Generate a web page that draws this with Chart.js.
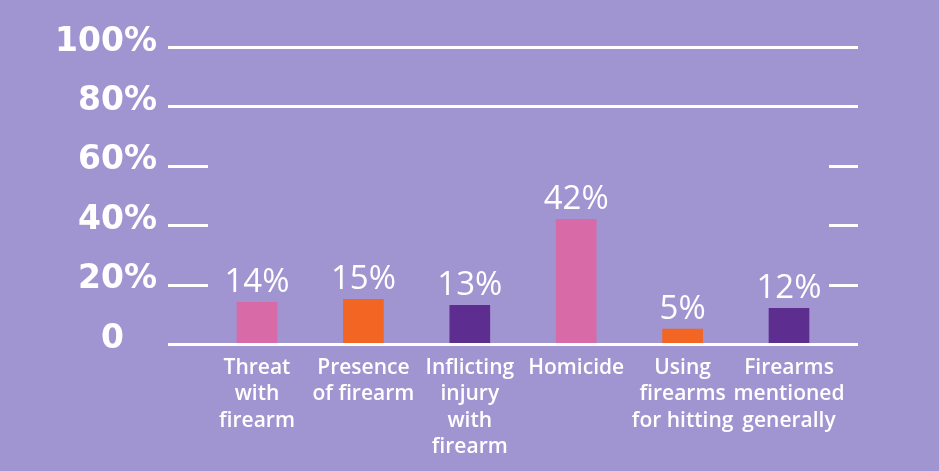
<!DOCTYPE html>
<html>
<head>
<meta charset="utf-8">
<script src="https://cdn.jsdelivr.net/npm/chart.js@4"></script>
<style>
  html, body { margin: 0; padding: 0; background: #a095d1; }
  #wrap { width: 939px; height: 471px; position: relative; }
</style>
</head>
<body>
<div id="wrap"><canvas id="chart"></canvas></div>
<script>
// Categories (multi-line labels), values in percent, and bar colours
const categories = [
  ['Threat', 'with', 'firearm'],
  ['Presence', 'of firearm'],
  ['Inflicting', 'injury', 'with', 'firearm'],
  ['Homicide'],
  ['Using', 'firearms', 'for hitting'],
  ['Firearms', 'mentioned', 'generally']
];
const values = [14, 15, 13, 42, 5, 12];
const barColors = ['#d86aa8', '#f26522', '#5d2e8f', '#d86aa8', '#f26522', '#5d2e8f'];

// Y axis ticks and their labels
const yTicks = [0, 20, 40, 60, 80, 100];
const yTickLabels = ['0', '20%', '40%', '60%', '80%', '100%'];
// Lines drawn across the full width; the others are short stubs at both ends
const fullGridValues = [0, 80, 100];

const WHITE = '#ffffff';

// Horizontal rules: full lines or left/right stubs, extending past the plot area
const gridSegments = {
  id: 'gridSegments',
  afterDatasetsDraw(chart, args, opts) {
    const { ctx, chartArea: a, scales: { y } } = chart;
    const left = a.left - opts.extendLeft;
    const right = a.right + opts.extendRight;
    ctx.save();
    ctx.strokeStyle = opts.color;
    ctx.lineWidth = opts.width;
    yTicks.forEach(v => {
      const py = Math.round(y.getPixelForValue(v)) + 0.5;
      ctx.beginPath();
      if (fullGridValues.includes(v)) {
        ctx.moveTo(left, py); ctx.lineTo(right, py);
      } else {
        ctx.moveTo(left, py); ctx.lineTo(left + opts.stubLeft, py);
        ctx.moveTo(right - opts.stubRight, py); ctx.lineTo(right, py);
      }
      ctx.stroke();
    });
    ctx.restore();
  }
};

// Percentage labels above each bar
const valueLabels = {
  id: 'valueLabels',
  afterDatasetsDraw(chart, args, opts) {
    const { ctx } = chart;
    const meta = chart.getDatasetMeta(0);
    ctx.save();
    ctx.fillStyle = opts.color;
    ctx.font = opts.font;
    ctx.textAlign = 'center';
    ctx.textBaseline = 'alphabetic';
    meta.data.forEach((bar, i) => {
      ctx.fillText(values[i] + '%', bar.x, bar.y - opts.offset);
    });
    ctx.restore();
  }
};

const Y_AXIS_WIDTH = 257;
const X_AXIS_HEIGHT = 127;

new Chart(document.getElementById('chart'), {
  type: 'bar',
  data: {
    labels: categories,
    datasets: [{
      data: values,
      backgroundColor: barColors,
      borderWidth: 0,
      barThickness: 40,
      clip: false
    }]
  },
  options: {
    responsive: true,
    maintainAspectRatio: false,
    animation: false,
    layout: { padding: { top: 47, right: 150, left: 0, bottom: 0 } },
    plugins: {
      legend: { display: false },
      tooltip: { enabled: false },
      gridSegments: { color: WHITE, width: 3, extendLeft: 89, extendRight: 69, stubLeft: 40, stubRight: 29 },
      valueLabels: { color: WHITE, font: '500 33px "Open Sans"', offset: 10 }
    },
    scales: {
      x: {
        offset: false,
        grid: { display: false, drawTicks: false },
        border: { display: false },
        afterFit(scale) { scale.height = X_AXIS_HEIGHT; },
        ticks: {
          color: WHITE,
          padding: 11,
          autoSkip: false,
          maxRotation: 0,
          minRotation: 0,
          font: { family: '"Open Sans"', size: 21, weight: '600', lineHeight: 1.25 }
        }
      },
      y: {
        min: 0,
        max: 100,
        grid: { display: false, drawTicks: false },
        border: { display: false },
        afterFit(scale) {
          scale.width = Y_AXIS_WIDTH;
          // the wide label gap should not push the plot area down
          scale.paddingTop = 0;
          scale.paddingBottom = 0;
        },
        afterBuildTicks(scale) { scale.ticks = yTicks.map(v => ({ value: v })); },
        ticks: {
          color: WHITE,
          padding: 100,
          labelOffset: -5,
          font: { family: '"DejaVu Sans"', size: 33, weight: 'bold' },
          callback(value) {
            const label = yTickLabels[yTicks.indexOf(value)];
            return value === 0 ? label + '\u2003' : label;
          }
        }
      }
    }
  },
  plugins: [gridSegments, valueLabels]
});
</script>
</body>
</html>
